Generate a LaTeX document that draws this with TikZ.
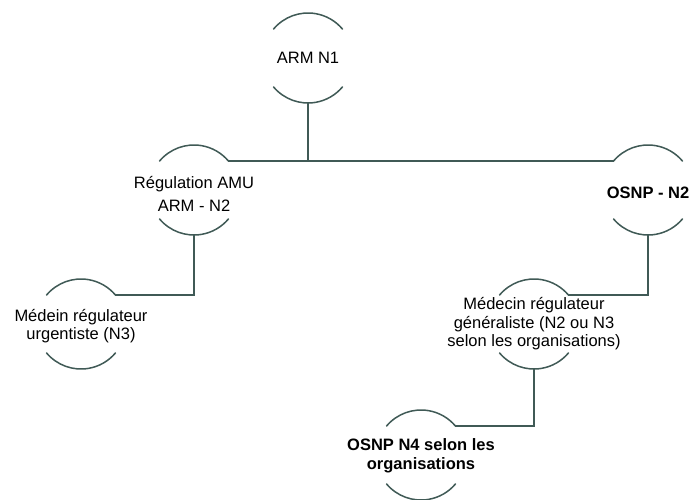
\documentclass[tikz,border=0pt]{standalone}
\usepackage{fontspec}
\setmainfont{Liberation Sans}
\definecolor{ringcol}{RGB}{64,90,86}
\newcommand\labfont{\fontsize{16.5}{18.5}\selectfont}
\begin{document}
\begin{tikzpicture}[x=1pt,y=1pt,
  ring/.style={circle, minimum size=90pt, inner sep=0pt, outer sep=0pt, draw=none},
  lbl/.style={align=center, font=\labfont, text=black, inner sep=0pt},
  conn/.style={draw=ringcol, line width=1.5pt},
  arcs/.style={draw=ringcol, line width=1.5pt, line cap=round}]
\useasboundingbox (0,0) rectangle (690,-500);
\clip (0,0) rectangle (690,-500);
\fill[white] (0,0) rectangle (690,-500);
% ring nodes
\node[ring] (arm) at (308,-58) {};
\node[ring] (reg) at (194,-190) {};
\node[ring] (osnp) at (648,-190) {};
\node[ring] (med3) at (81,-324) {};
\node[ring] (medg) at (534,-324) {};
\node[ring] (osnp4) at (421,-455) {};
% labels
\node[lbl] (tarm) at (arm.center) {ARM N1};
\node[lbl] (treg) at ([yshift=-4pt]reg.center) {Régulation AMU\\[4pt]ARM - N2};
\node[lbl,font=\labfont\bfseries] (tosnp) at ([yshift=-3pt]osnp.center) {OSNP - N2};
\node[lbl] (tmed3) at ([yshift=-2pt]med3.center) {Médein régulateur\\urgentiste (N3)};
\node[lbl] (tmedg) at (medg.center) {Médecin régulateur\\généraliste (N2 ou N3\\selon les organisations)};
\node[lbl,font=\labfont\bfseries] (tosnp4) at ([yshift=-1pt]osnp4.center) {OSNP N4 selon les\\organisations};
% arcs
\foreach \n in {arm,reg,osnp,med3,medg,osnp4}{
  \draw[arcs] (\n.140) arc[start angle=140,end angle=40,radius=45pt];
  \draw[arcs] (\n.220) arc[start angle=220,end angle=320,radius=45pt];
}
% connectors
\draw[conn] (arm.south) |- (reg.40);
\draw[conn] (arm.south) |- (osnp.140);
\draw[conn] (reg.south) |- (med3.40);
\draw[conn] (osnp.south) |- (medg.40);
\draw[conn] (medg.south) |- (osnp4.40);
\end{tikzpicture}
\end{document}
